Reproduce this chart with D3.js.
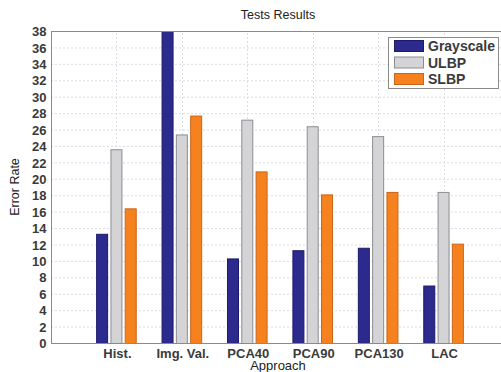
<!DOCTYPE html>
<html><head><meta charset="utf-8">
<script src="https://cdn.jsdelivr.net/npm/d3@7"></script>
<style>body{margin:0;background:#fff;} svg{display:block;font-family:"Liberation Sans",Arial,sans-serif;}</style>
</head><body>
<script>
const categories = ["Hist.", "Img. Val.", "PCA40", "PCA90", "PCA130", "LAC"];
const seriesNames = ["Grayscale", "ULBP", "SLBP"];
const grayscale = [13.3, 38, 10.3, 11.3, 11.6, 7.0];
const ulbp = [23.6, 25.4, 27.2, 26.4, 25.2, 18.4];
const slbp = [16.4, 27.7, 20.9, 18.1, 18.4, 12.1];
const yTicks = d3.range(0, 39, 2);
const colors = ["#2d2a8e", "#d4d4d6", "#f5821f"];
const strokes = ["#1c1a6a", "#8c8c94", "#c8661a"];

const W = 501, H = 372;
const m = {left: 51, top: 31, bottom: 29};
const plotRight = 509;
const svg = d3.select("body").append("svg").attr("width", W).attr("height", H);

const x = d3.scaleLinear().domain([0, 7]).range([m.left, plotRight]);
const y = d3.scaleLinear().domain([0, 38]).range([H - m.bottom, m.top]);

// grid
const g = svg.append("g");
g.selectAll(".hg").data(yTicks).join("line")
  .attr("x1", m.left).attr("x2", plotRight)
  .attr("y1", d => y(d) + 0.5).attr("y2", d => y(d) + 0.5)
  .attr("stroke", "#dcdce4").attr("stroke-width", 1).attr("stroke-dasharray", "2,2");
g.selectAll(".vg").data(categories).join("line")
  .attr("x1", (d, i) => Math.round(x(i + 1)) + 0.5).attr("x2", (d, i) => Math.round(x(i + 1)) + 0.5)
  .attr("y1", y(0)).attr("y2", y(38))
  .attr("stroke", "#dcdce4").attr("stroke-width", 1).attr("stroke-dasharray", "2,2");

// bars
const data = [grayscale, ulbp, slbp];
const bw = 12 / (x(1) - x(0)); // in domain units
const off = 14.3 / (x(1) - x(0));
data.forEach((vals, s) => {
  svg.append("g").selectAll("rect").data(vals).join("rect")
    .attr("x", (d, i) => x(i + 1 + (s - 1) * off - bw / 2) + 0.5)
    .attr("width", x(bw) - x(0) - 1)
    .attr("y", d => y(d) + 0.5)
    .attr("height", d => y(0) - y(d))
    .attr("fill", colors[s]).attr("stroke", strokes[s]).attr("stroke-width", 1);
});

// frame
svg.append("rect").attr("x", m.left + 0.5).attr("y", m.top + 0.5)
  .attr("width", plotRight - m.left).attr("height", y(0) - m.top)
  .attr("fill", "none").attr("stroke", "#8a8a8a").attr("stroke-width", 1);

// axes
const ya = svg.append("g").attr("transform", `translate(${m.left + 0.5},0.5)`)
  .call(d3.axisLeft(y).tickValues(yTicks).tickSize(0).tickPadding(5).tickFormat(d3.format("d")));
ya.select(".domain").remove();
ya.selectAll("text").attr("font-size", 13).attr("font-weight", "bold").attr("fill", "#3a3a3a").attr("font-family", "Liberation Sans, Arial, sans-serif");

const xa = svg.append("g").attr("transform", `translate(0.5,${y(0) + 0.5})`)
  .call(d3.axisBottom(x).tickValues(d3.range(1, 7)).tickSize(0).tickPadding(5).tickFormat(d => categories[d - 1]));
xa.select(".domain").remove();
xa.selectAll("text").attr("font-size", 13).attr("font-weight", "bold").attr("fill", "#3a3a3a").attr("font-family", "Liberation Sans, Arial, sans-serif");

// titles
svg.append("text").attr("x", 278).attr("y", 19).attr("text-anchor", "middle")
  .attr("font-size", 12.5).attr("fill", "#222").text("Tests Results");
svg.append("text").attr("x", 278).attr("y", 370).attr("text-anchor", "middle")
  .attr("font-size", 13).attr("fill", "#222").text("Approach");
svg.append("text").attr("transform", `translate(19,${(y(0) + m.top) / 2}) rotate(-90)`)
  .attr("text-anchor", "middle").attr("font-size", 12.5).attr("fill", "#222").text("Error Rate");

// legend
const lg = svg.append("g");
lg.append("rect").attr("x", 388.5).attr("y", 37.5).attr("width", 110).attr("height", 51)
  .attr("fill", "#fff").attr("stroke", "#8a8a8a");
seriesNames.forEach((n, i) => {
  const cy = 46 + i * 16.5;
  lg.append("rect").attr("x", 394.5).attr("y", cy - 5.5).attr("width", 29).attr("height", 11)
    .attr("fill", colors[i]).attr("stroke", strokes[i]);
  lg.append("text").attr("x", 428).attr("y", cy + 5).attr("font-size", 14).attr("font-weight", "bold").attr("fill", "#3a3a3a").text(n);
});
</script>
</body></html>
